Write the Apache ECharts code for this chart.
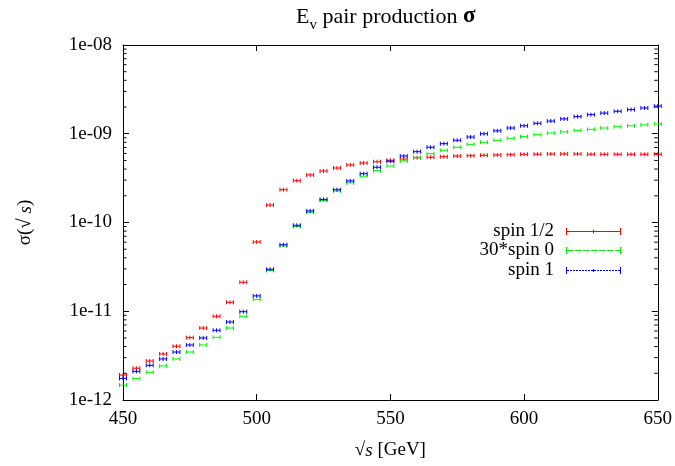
<!DOCTYPE html>
<html>
<head>
<meta charset="utf-8">
<script src="https://cdn.jsdelivr.net/npm/echarts@6/dist/echarts.min.js"></script>
<style>html,body{margin:0;padding:0;background:#fff;}#c{width:675px;height:466px;}</style>
</head>
<body>
<div id="c"></div>
<script>
// ---- data ----
const sqrtS = [450,455,460,465,470,475,480,485,490,495,500,505,510,515,520,525,530,535,540,545,550,555,560,565,570,575,580,585,590,595,600,605,610,615,620,625,630,635,640,645,650];
const spinHalf = [1.91e-12,2.28e-12,2.75e-12,3.30e-12,4.03e-12,5.04e-12,6.47e-12,8.77e-12,1.26e-11,2.12e-11,
  6.03e-11,1.57e-10,2.34e-10,2.96e-10,3.43e-10,3.80e-10,4.11e-10,4.45e-10,4.68e-10,4.84e-10,
  5.02e-10,5.19e-10,5.37e-10,5.43e-10,5.51e-10,5.61e-10,5.66e-10,5.72e-10,5.77e-10,5.81e-10,
  5.87e-10,5.88e-10,5.92e-10,5.92e-10,5.92e-10,5.88e-10,5.87e-10,5.87e-10,5.87e-10,5.87e-10,5.87e-10];
const spin0x30 = [1.47e-12,1.74e-12,2.05e-12,2.42e-12,2.90e-12,3.47e-12,4.17e-12,5.08e-12,6.47e-12,8.77e-12,
  1.36e-11,2.88e-11,5.43e-11,9.02e-11,1.30e-10,1.77e-10,2.26e-10,2.79e-10,3.32e-10,3.84e-10,
  4.33e-10,4.93e-10,5.37e-10,5.96e-10,6.51e-10,7.04e-10,7.60e-10,8.01e-10,8.44e-10,8.89e-10,
  9.27e-10,9.75e-10,1.02e-9,1.05e-9,1.09e-9,1.12e-9,1.16e-9,1.20e-9,1.23e-9,1.26e-9,1.29e-9];
const spin1 = [1.75e-12,2.10e-12,2.46e-12,2.90e-12,3.47e-12,4.17e-12,5.00e-12,6.10e-12,7.57e-12,9.89e-12,
  1.49e-11,2.97e-11,5.62e-11,9.30e-11,1.35e-10,1.82e-10,2.34e-10,2.94e-10,3.55e-10,4.19e-10,
  4.89e-10,5.61e-10,6.28e-10,7.04e-10,7.73e-10,8.44e-10,9.19e-10,1.00e-9,1.08e-9,1.16e-9,
  1.23e-9,1.31e-9,1.39e-9,1.47e-9,1.56e-9,1.64e-9,1.71e-9,1.79e-9,1.87e-9,1.95e-9,2.05e-9];
const xErr = 1.3; // half width of horizontal error bars [GeV]
const seriesNames = ['spin 1/2', '30*spin 0', 'spin 1'];
const xTicks = [450, 500, 550, 600, 650];
const yTickLabels = {'-12':'1e-12','-11':'1e-11','-10':'1e-10','-9':'1e-09','-8':'1e-08'};
const minorMantissas = [2,3,4,5,6,7,8,9];
const decades = [1e-12,1e-11,1e-10,1e-9];

const FONT = 'Liberation Serif';
const colors = ['#ff0000', '#00ee00', '#0000ff'];

function pairs(ys){ return sqrtS.map((x,i)=>[x, ys[i]]); }

function makeRender(color, dash, centerTick){
  return function(params, api){
    const x = api.value(0), y = api.value(1);
    const pL = api.coord([x - xErr, y]);
    const pR = api.coord([x + xErr, y]);
    const pc = api.coord([x, y]);
    const cap = 2;
    const st = {stroke: color, lineWidth: 1};
    const ch = [
      {type:'line', shape:{x1:pL[0], y1:pL[1], x2:pR[0], y2:pR[1]}, style:Object.assign({lineDash: dash}, st)},
      {type:'line', shape:{x1:pL[0], y1:pL[1]-cap, x2:pL[0], y2:pL[1]+cap}, style:st},
      {type:'line', shape:{x1:pR[0], y1:pR[1]-cap, x2:pR[0], y2:pR[1]+cap}, style:st}
    ];
    if (centerTick) ch.push({type:'line', shape:{x1:pc[0], y1:pc[1]-cap, x2:pc[0], y2:pc[1]+cap}, style:st});
    return {type:'group', children: ch};
  };
}

const minorVals = [];
decades.forEach(d => minorMantissas.forEach(m => minorVals.push([450, m*d])));

function minorRender(params, api){
  const y = api.coord([450, api.value(1)])[1];
  const cs = params.coordSys;
  const len = 3.5;
  const st = {stroke:'#000', lineWidth:1};
  return {type:'group', children:[
    {type:'line', shape:{x1:cs.x, y1:y, x2:cs.x+len, y2:y}, style:st},
    {type:'line', shape:{x1:cs.x+cs.width, y1:y, x2:cs.x+cs.width-len, y2:y}, style:st}
  ]};
}

function legendIcon(kind){
  // 55 x 7 box
  let p = 'path://M0,0h1v7h-1z M54,0h1v7h-1z ';
  if (kind === 0){
    p += 'M0,3h55v1h-55z M27,1.5h1v4h-1z';
  } else if (kind === 1){
    for (let x = 1; x < 54; x += 8) p += 'M'+x+',3h'+Math.min(6,54-x)+'v1h-'+Math.min(6,54-x)+'z ';
  } else {
    for (let x = 1; x < 54; x += 3) p += 'M'+x+',3h'+Math.min(2,54-x)+'v1h-'+Math.min(2,54-x)+'z ';
    p += 'M27,2h1v3h-1z';
  }
  return p;
}

const legendTops = [222, 241, 261];
const legends = seriesNames.map((n,i)=>({
  data:[{name:n, icon: legendIcon(i), itemStyle:{color:colors[i], borderWidth:0}}],
  right: 54, top: legendTops[i], orient:'vertical', align:'right', padding:0,
  itemWidth: 55, itemHeight: 7, selectedMode:false,
  textStyle:{fontFamily:FONT, fontSize:19, color:'#000', padding:[0,7,0,0]}
}));

const axisLineStyle = {lineStyle:{color:'#000', width:1}};
const titleTok = {fontFamily:FONT, fontSize:22, fontWeight:'normal', color:'#000', verticalAlign:'bottom', padding:[0,0,5,0]};

const option = {
  animation:false,
  backgroundColor:'#fff',
  title:{
    text:'{e|E}{v|v}{t| pair production }{s|σ}',
    left: 291, top: 0,
    textStyle:{fontWeight:'normal', rich:{
      e: titleTok,
      v:{fontFamily:FONT, fontSize:15, fontWeight:'normal', color:'#000', verticalAlign:'bottom'},
      t: titleTok,
      s: Object.assign({}, titleTok, {fontSize:23, fontWeight:'bold'})
    }}
  },
  legend: legends,
  grid:{left:123, right:16, top:45, bottom:66, containLabel:false},
  xAxis:[{
    type:'value', min:450, max:650, interval:50, position:'bottom',
    axisLine: Object.assign({onZero:false}, axisLineStyle),
    axisTick:{inside:true, length:6, lineStyle:{color:'#000'}},
    splitLine:{show:false},
    axisLabel:{fontFamily:FONT, fontSize:19, color:'#000', margin:10,
      formatter: v => xTicks.indexOf(v) >= 0 ? String(v) : ''},
    name:'{r|√}{i|s}{r| [GeV]}', nameLocation:'middle', nameGap:41,
    nameTextStyle:{rich:{
      r:{fontFamily:FONT, fontSize:19, color:'#000'},
      i:{fontFamily:FONT, fontSize:19, fontStyle:'italic', color:'#000'}
    }}
  },{
    type:'value', min:450, max:650, interval:50, position:'top',
    axisLine: Object.assign({onZero:false}, axisLineStyle),
    axisTick:{inside:true, length:6, lineStyle:{color:'#000'}},
    axisLabel:{show:false}, splitLine:{show:false}
  }],
  yAxis:[{
    type:'log', logBase:10, min:1e-12, max:1e-8, position:'left',
    axisLine: Object.assign({onZero:false}, axisLineStyle),
    axisTick:{inside:true, length:6, lineStyle:{color:'#000'}},
    splitLine:{show:false}, minorTick:{show:false},
    axisLabel:{fontFamily:FONT, fontSize:19, color:'#000', margin:11,
      formatter: v => { const e = Math.round(Math.log10(v)); return yTickLabels[String(e)] || ''; }},
    name:'{r|σ(√ }{i|s}{r|)}', nameLocation:'middle', nameGap:88, nameRotate:90,
    nameTextStyle:{rich:{
      r:{fontFamily:FONT, fontSize:19, color:'#000'},
      i:{fontFamily:FONT, fontSize:19, fontStyle:'italic', color:'#000'}
    }}
  },{
    type:'log', logBase:10, min:1e-12, max:1e-8, position:'right',
    axisLine: Object.assign({onZero:false}, axisLineStyle),
    axisTick:{inside:true, length:6, lineStyle:{color:'#000'}},
    axisLabel:{show:false}, splitLine:{show:false}
  }],
  series:[
    {type:'custom', name:'minor', data:minorVals, renderItem:minorRender, silent:true, z:1},
    {type:'custom', name:seriesNames[0], data:pairs(spinHalf), renderItem:makeRender(colors[0], null, true), itemStyle:{color:colors[0]}, z:2},
    {type:'custom', name:seriesNames[1], data:pairs(spin0x30), renderItem:makeRender(colors[1], null, false), itemStyle:{color:colors[1]}, z:3},
    {type:'custom', name:seriesNames[2], data:pairs(spin1), renderItem:makeRender(colors[2], null, true), itemStyle:{color:colors[2]}, z:4}
  ]
};

const chart = echarts.init(document.getElementById('c'), null, {renderer:'canvas'});
chart.setOption(option);
</script>
</body>
</html>
